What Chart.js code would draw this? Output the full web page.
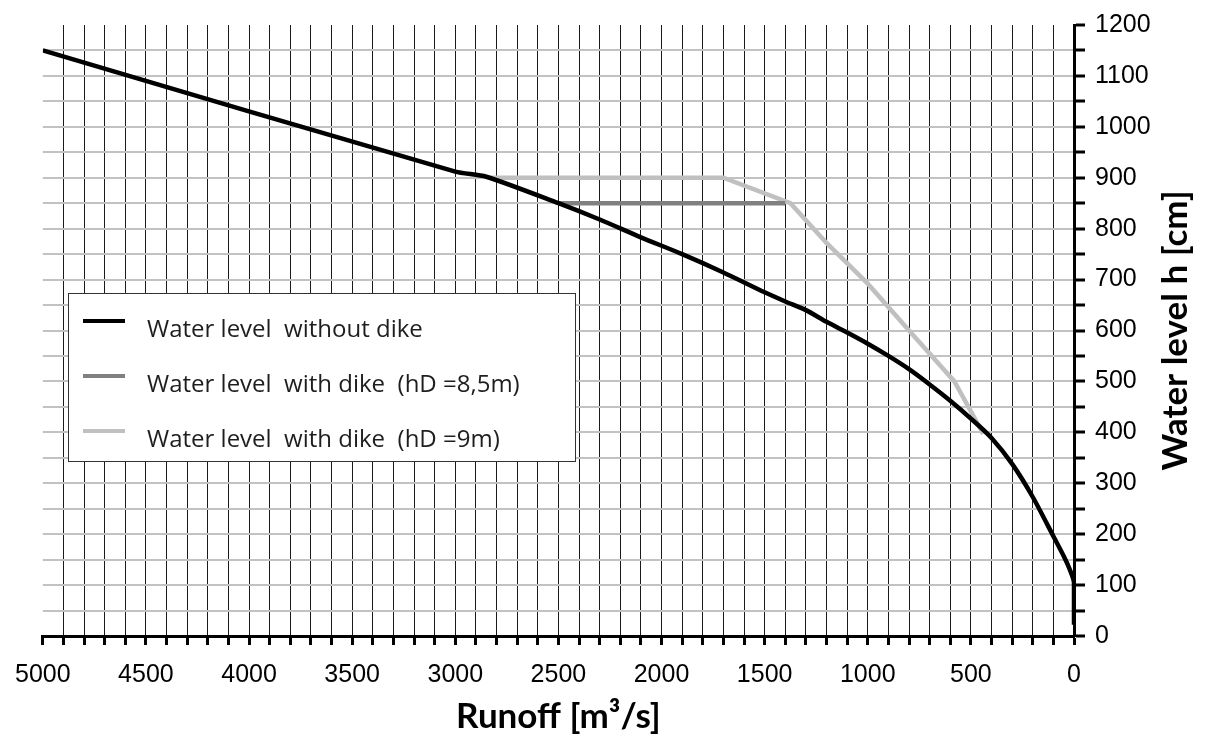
<!DOCTYPE html>
<html>
<head>
<meta charset="utf-8">
<script src="https://cdn.jsdelivr.net/npm/chart.js@4"></script>
<style>
  body { margin: 0; background: #fff; }
  #wrap { width: 1205px; height: 744px; }
</style>
</head>
<body>
<div id="wrap"><canvas id="levelChart" width="1205" height="744"></canvas></div>
<script>
// runoff [m3/s] and water level [cm]
var runoffNoDike = [5000, 3000, 2850, 2500, 2300, 2100, 1900, 1700, 1500, 1400, 1300, 1200, 1100, 1000, 900, 800, 700, 600, 500, 400, 300, 200, 100, 50, 20, 0, 0];
var levelNoDike  = [1150, 912, 902, 850, 818, 783, 750, 714, 675, 657, 640, 617, 596, 574, 550, 524, 494, 462, 427, 389, 338, 273, 196, 157, 130, 105, 22];

var runoffDike85 = [2500, 1400];
var levelDike85  = [850, 850];

var runoffDike9 = [2840, 1700, 1375, 1200, 1000, 800, 580, 440];
var levelDike9  = [900, 900, 850, 772, 692, 600, 500, 397];

var seriesLabels = [
    'Water level  without dike',
    'Water level  with dike  (hD =8,5m)',
    'Water level  with dike  (hD =9m)'
];
var seriesColors = ['#000000', '#808080', '#c0c0c0'];

var xTitle = 'Runoff [m³/s]';
var yTitle = 'Water level h [cm]';

function toPoints(xs, ys) {
    var pts = [];
    for (var i = 0; i < xs.length; i++) pts.push({ x: xs[i], y: ys[i] });
    return pts;
}

// axis titles (y title reads bottom-to-top on the right side) and the boxed legend
var extrasPlugin = {
    id: 'extras',
    afterDraw: function(chart) {
        var c = chart.ctx, area = chart.chartArea;
        c.save();
        c.fillStyle = '#000';
        c.textAlign = 'center';
        c.textBaseline = 'middle';
        c.font = 'bold 35px Lato';
        c.fillText(xTitle, (area.left + area.right) / 2, 717);
        c.translate(1176, (area.top + area.bottom) / 2);
        c.rotate(-Math.PI / 2);
        c.font = 'bold 35px Lato';
        c.fillText(yTitle, 0, 0);
        c.restore();

        // legend box
        c.save();
        c.fillStyle = '#fff';
        c.fillRect(68, 293, 507, 168);
        c.strokeStyle = '#333';
        c.lineWidth = 1;
        c.strokeRect(68.5, 293.5, 507, 168);
        var rows = [321, 376, 431];
        chart.data.datasets.forEach(function(ds, i) {
            c.strokeStyle = ds.borderColor;
            c.lineWidth = 4;
            c.beginPath();
            c.moveTo(83, rows[i]);
            c.lineTo(125, rows[i]);
            c.stroke();
            c.fillStyle = '#1e1e1e';
            c.font = '24px "Open Sans"';
            c.textAlign = 'left';
            c.textBaseline = 'middle';
            c.fillText(ds.label, 147, rows[i] + 9);
        });
        c.restore();
    }
};

var ctx = document.getElementById('levelChart').getContext('2d');
var levelChart = new Chart(ctx, {
    type: 'line',
    data: {
        datasets: [{
            label: seriesLabels[0],
            data: toPoints(runoffNoDike, levelNoDike),
            borderColor: seriesColors[0],
            borderWidth: 4.5,
            tension: 0.25,
            pointRadius: 0
        }, {
            label: seriesLabels[1],
            data: toPoints(runoffDike85, levelDike85),
            borderColor: seriesColors[1],
            borderWidth: 4.5,
            pointRadius: 0
        }, {
            label: seriesLabels[2],
            data: toPoints(runoffDike9, levelDike9),
            borderColor: seriesColors[2],
            borderWidth: 4.5,
            pointRadius: 0
        }]
    },
    options: {
        responsive: false,
        animation: false,
        devicePixelRatio: 1,
        layout: { padding: { left: 40, top: 23, right: 0, bottom: 0 } },
        plugins: {
            legend: { display: false },
            tooltip: { enabled: false }
        },
        scales: {
            x: {
                type: 'linear',
                position: 'bottom',
                reverse: true,
                min: 0,
                max: 5000,
                border: { color: '#000', width: 3 },
                grid: {
                    color: function(c) { return c.tick && c.tick.value === 5000 ? 'rgba(0,0,0,0)' : '#1a1a1a'; },
                    lineWidth: 1,
                    tickColor: '#000',
                    tickWidth: 3,
                    tickLength: 9
                },
                ticks: {
                    stepSize: 100,
                    autoSkip: false,
                    maxRotation: 0,
                    minRotation: 0,
                    padding: 15,
                    color: '#000',
                    font: { family: 'Liberation Sans', size: 25 },
                    callback: function(v) { return v % 500 === 0 ? v : ''; }
                },
                afterFit: function(scale) { scale.height = 108; }
            },
            y: {
                type: 'linear',
                position: 'right',
                min: 0,
                max: 1200,
                border: { color: '#000', width: 3 },
                grid: {
                    color: function(c) { return c.tick && c.tick.value === 1200 ? 'rgba(0,0,0,0)' : '#c2c2c2'; },
                    lineWidth: 2,
                    tickColor: '#000',
                    tickWidth: 3,
                    tickLength: 11
                },
                ticks: {
                    stepSize: 50,
                    autoSkip: false,
                    padding: 10,
                    color: '#000',
                    font: { family: 'Liberation Sans', size: 25 },
                    callback: function(v) { return v % 100 === 0 ? v : ''; }
                },
                afterFit: function(scale) { scale.width = 131; }
            }
        }
    },
    plugins: [extrasPlugin]
});
</script>
</body>
</html>
